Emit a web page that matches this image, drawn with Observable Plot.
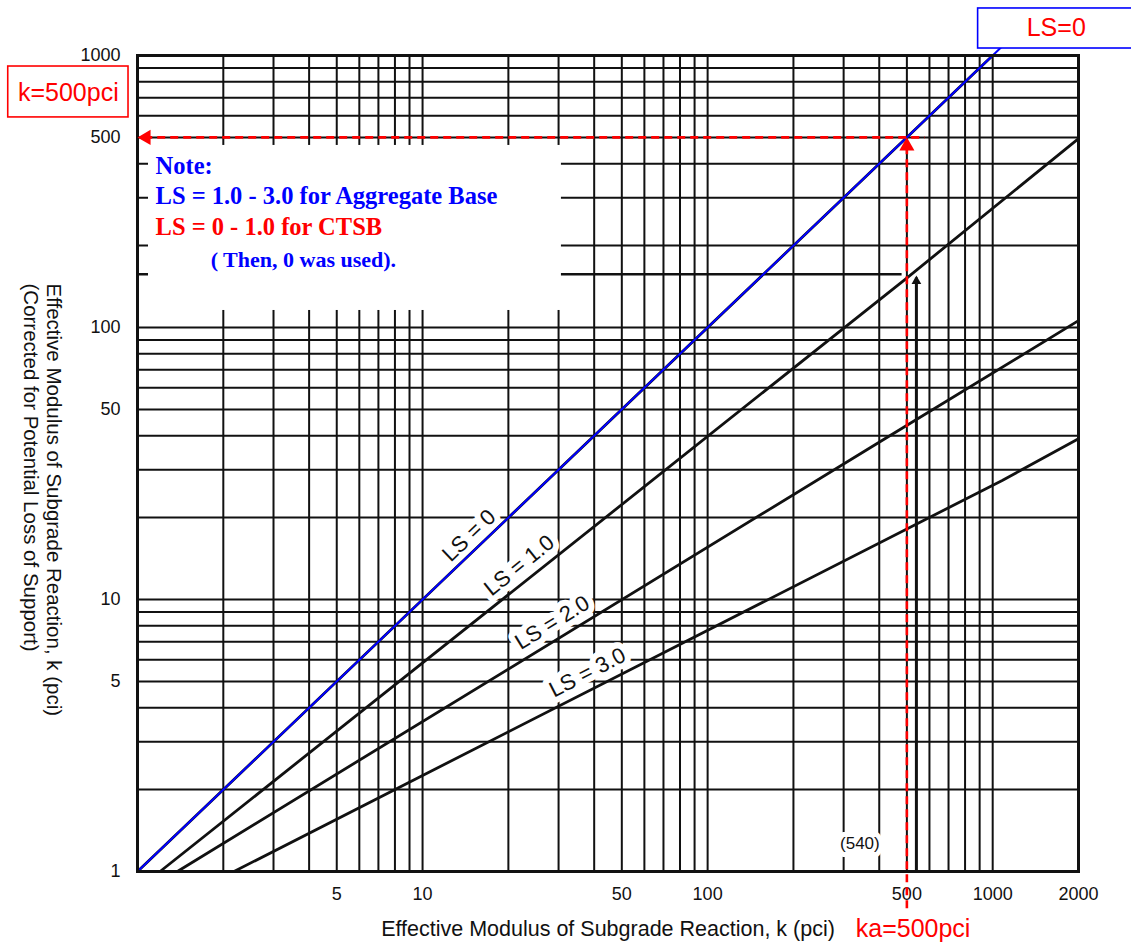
<!DOCTYPE html>
<html>
<head>
<meta charset="utf-8">
<script src="https://cdn.jsdelivr.net/npm/d3@7"></script>
<script src="https://cdn.jsdelivr.net/npm/@observablehq/plot@0.6"></script>
<style>
  html, body { margin: 0; padding: 0; background: #fff; }
  #chart { width: 1131px; height: 943px; overflow: hidden; }
</style>
</head>
<body>
<div id="chart"></div>
<script>
// ---------------- data ----------------
const xTicks = [5, 10, 50, 100, 500, 1000, 2000];
const yTicks = [1, 5, 10, 50, 100, 500, 1000];
const xGrid = [2, 3, 4, 5, 6, 7, 8, 9, 10, 20, 30, 40, 50, 60, 70, 80, 90, 100, 200, 300, 400, 500, 600, 700, 800, 900, 1000];
const yGrid = [2, 3, 4, 5, 6, 7, 8, 9, 10, 20, 30, 40, 50, 60, 70, 80, 90, 100, 200, 300, 400, 500, 600, 700, 800, 900];

const curveNames = ["LS = 0", "LS = 1.0", "LS = 2.0", "LS = 3.0"];
const ls0K = [1, 1000];          const ls0Eff = [1, 1000];
const ls1K = [1.2, 492, 2000];   const ls1Eff = [1, 150, 495];
const ls2K = [1.38, 409, 2000];  const ls2Eff = [1, 38.4, 106];
const ls3K = [2.18, 1080, 2000]; const ls3Eff = [1, 27.4, 39];

const exampleK = [540];     // original worked example (arrow)
const exampleEff = [157];
const readK = [500];        // red reading: ka = 500 pci
const readEff = [500];      // red reading: k = 500 pci
const blueLineK = [1, 1130];

const xTitle = "Effective Modulus of Subgrade Reaction, k (pci)";
const yTitle1 = "Effective Modulus of Subgrade Reaction, k (pci)";
const yTitle2 = "(Corrected for Potential Loss of Support)";
const noteLines = ["Note:", "LS = 1.0 - 3.0 for Aggregate Base", "LS = 0 - 1.0 for CTSB", "( Then, 0 was used)."];

// ---------------- build ----------------
const ink = "#111", red = "#ff0000", blue = "#0000ff";
const curves = [[ls0K, ls0Eff], [ls1K, ls1Eff], [ls2K, ls2Eff], [ls3K, ls3Eff]]
  .flatMap(([ks, es], i) => ks.map((k, j) => ({name: curveNames[i], k, eff: es[j]})));

// label placements (along each line)
const curveLabels = [
  {name: curveNames[0], k: 14.8, eff: 16.75, angle: -43.7},
  {name: curveNames[1], k: 22.2, eff: 13.0, angle: -38.7},
  {name: curveNames[2], k: 29.0, eff: 8.02, angle: -31.5},
  {name: curveNames[3], k: 38.5, eff: 5.25, angle: -27.2}
];

const serif = "'Liberation Serif', 'Times New Roman', serif";
const sans = "'Liberation Sans', Arial, Helvetica, sans-serif";

const chart = Plot.plot({
  width: 1131,
  height: 943,
  marginLeft: 137,
  marginRight: 53,
  marginTop: 55,
  marginBottom: 72,
  style: {fontFamily: sans, fontSize: "18px", color: ink, background: "#fff"},
  x: {type: "log", domain: [1, 2000], axis: null},
  y: {type: "log", domain: [1, 1000], axis: null},
  marks: [
    // grid
    Plot.ruleX(xGrid, {stroke: ink, strokeWidth: 2}),
    Plot.ruleY(yGrid, {stroke: ink, strokeWidth: 2}),
    // original worked example: horizontal reading line
    Plot.ruleY(exampleEff, {x1: 1, x2: 481, stroke: ink, strokeWidth: 2.4}),
    // curve labels with white halo (drawn before the curves)
    Plot.text(curveLabels, {x: "k", y: "eff", text: "name", rotate: "angle", dx: -2, dy: -3, fontSize: 22, fontFamily: sans,
      fill: ink, stroke: "#fff", strokeWidth: 12, paintOrder: "stroke", strokeLinejoin: "round"}),
    Plot.text(["(540)"], {x: 342, y: 1.267, fontSize: 17, fontFamily: sans, fill: ink,
      stroke: "#fff", strokeWidth: 10, paintOrder: "stroke", strokeLinejoin: "round"}),
    // arrow at 540
    Plot.ruleX(exampleK, {y1: 1, y2: 152, stroke: ink, strokeWidth: 3}),
    Plot.dot(exampleK, {x: d => d, y: () => exampleEff[0], symbol: "triangle", r: 3.6, fill: ink, stroke: null, dy: 7}),
    // curves
    Plot.line(curves, {x: "k", y: "eff", z: "name", stroke: ink, strokeWidth: 2.8}),
    Plot.line(blueLineK, {x: d => d, y: d => d, stroke: blue, strokeWidth: 2, clip: false}),
    // note box (white)
    Plot.rect([0], {x1: 1.093, x2: 30.7, y1: 115.5, y2: 467, fill: "#fff"}),
    // frame
    Plot.frame({stroke: ink, strokeWidth: 3}),
    // tick labels
    Plot.text(xTicks, {x: d => d, text: d => String(d), frameAnchor: "bottom", lineAnchor: "bottom", dy: 28, fontSize: 18, fontFamily: sans, fill: ink}),
    Plot.text(yTicks, {y: d => d, text: d => String(d), frameAnchor: "left", textAnchor: "end", dx: -17, fontSize: 18, fontFamily: sans, fill: ink}),
    // note text
    Plot.text([noteLines[0]], {x: 1.157, y: 367.4, lineAnchor: "bottom", textAnchor: "start", fontFamily: serif, fontWeight: "bold", fontSize: 24.5, fill: blue}),
    Plot.text([noteLines[1]], {x: 1.157, y: 285, lineAnchor: "bottom", textAnchor: "start", fontFamily: serif, fontWeight: "bold", fontSize: 24.5, fill: blue}),
    Plot.text([noteLines[2]], {x: 1.157, y: 217.9, lineAnchor: "bottom", textAnchor: "start", fontFamily: serif, fontWeight: "bold", fontSize: 24.5, fill: red}),
    Plot.text([noteLines[3]], {x: 1.806, y: 166.6, lineAnchor: "bottom", textAnchor: "start", fontFamily: serif, fontWeight: "bold", fontSize: 22, fill: blue}),
    // red reading lines
    Plot.ruleY(readEff, {x1: 1.06, x2: 579, stroke: red, strokeWidth: 2.6, strokeDasharray: "8,5"}),
    Plot.ruleX(readK, {y1: 0.73, y2: 470, stroke: red, strokeWidth: 2.6, strokeDasharray: "8,5"}),
    Plot.dot(readEff, {x: () => 1, y: d => d, symbol: "triangle", rotate: -90, r: 5.6, fill: red, stroke: null, dx: 8.7}),
    Plot.dot(readK, {x: d => d, y: () => readEff[0], symbol: "triangle", r: 5.6, fill: red, stroke: null, dy: 8.7}),
    // annotation boxes
    Plot.rect([0], {x1: 0.352, x2: 0.93, y1: 592, y2: 911, fill: "#fff", stroke: red, strokeWidth: 1.6}),
    Plot.text(["k=500pci"], {x: 0.572, y: 731, fontSize: 25, fontFamily: sans, fill: red}),
    Plot.rect([0], {x1: 889, x2: 3400, y1: 1061, y2: 1489, fill: "#fff", stroke: blue, strokeWidth: 1.6}),
    Plot.text(["LS=0"], {x: 1671, y: 1257, fontSize: 25, fontFamily: sans, fill: red}),
    Plot.text(["ka=500pci"], {x: 525.7, y: 0.617, fontSize: 25, fontFamily: sans, fill: red}),
    // axis titles
    Plot.text([xTitle], {frameAnchor: "bottom", dy: 64, lineAnchor: "bottom", fontSize: 21.5, fontFamily: sans, fill: ink}),
    Plot.text([yTitle1], {frameAnchor: "top-left", dx: -76, dy: 228, rotate: 90, textAnchor: "start", fontSize: 20.5, fontFamily: sans, fill: ink}),
    Plot.text([yTitle2], {frameAnchor: "top-left", dx: -99, dy: 228, rotate: 90, textAnchor: "start", fontSize: 20.5, fontFamily: sans, fill: ink})
  ]
});
document.getElementById("chart").appendChild(chart);
</script>
</body>
</html>
